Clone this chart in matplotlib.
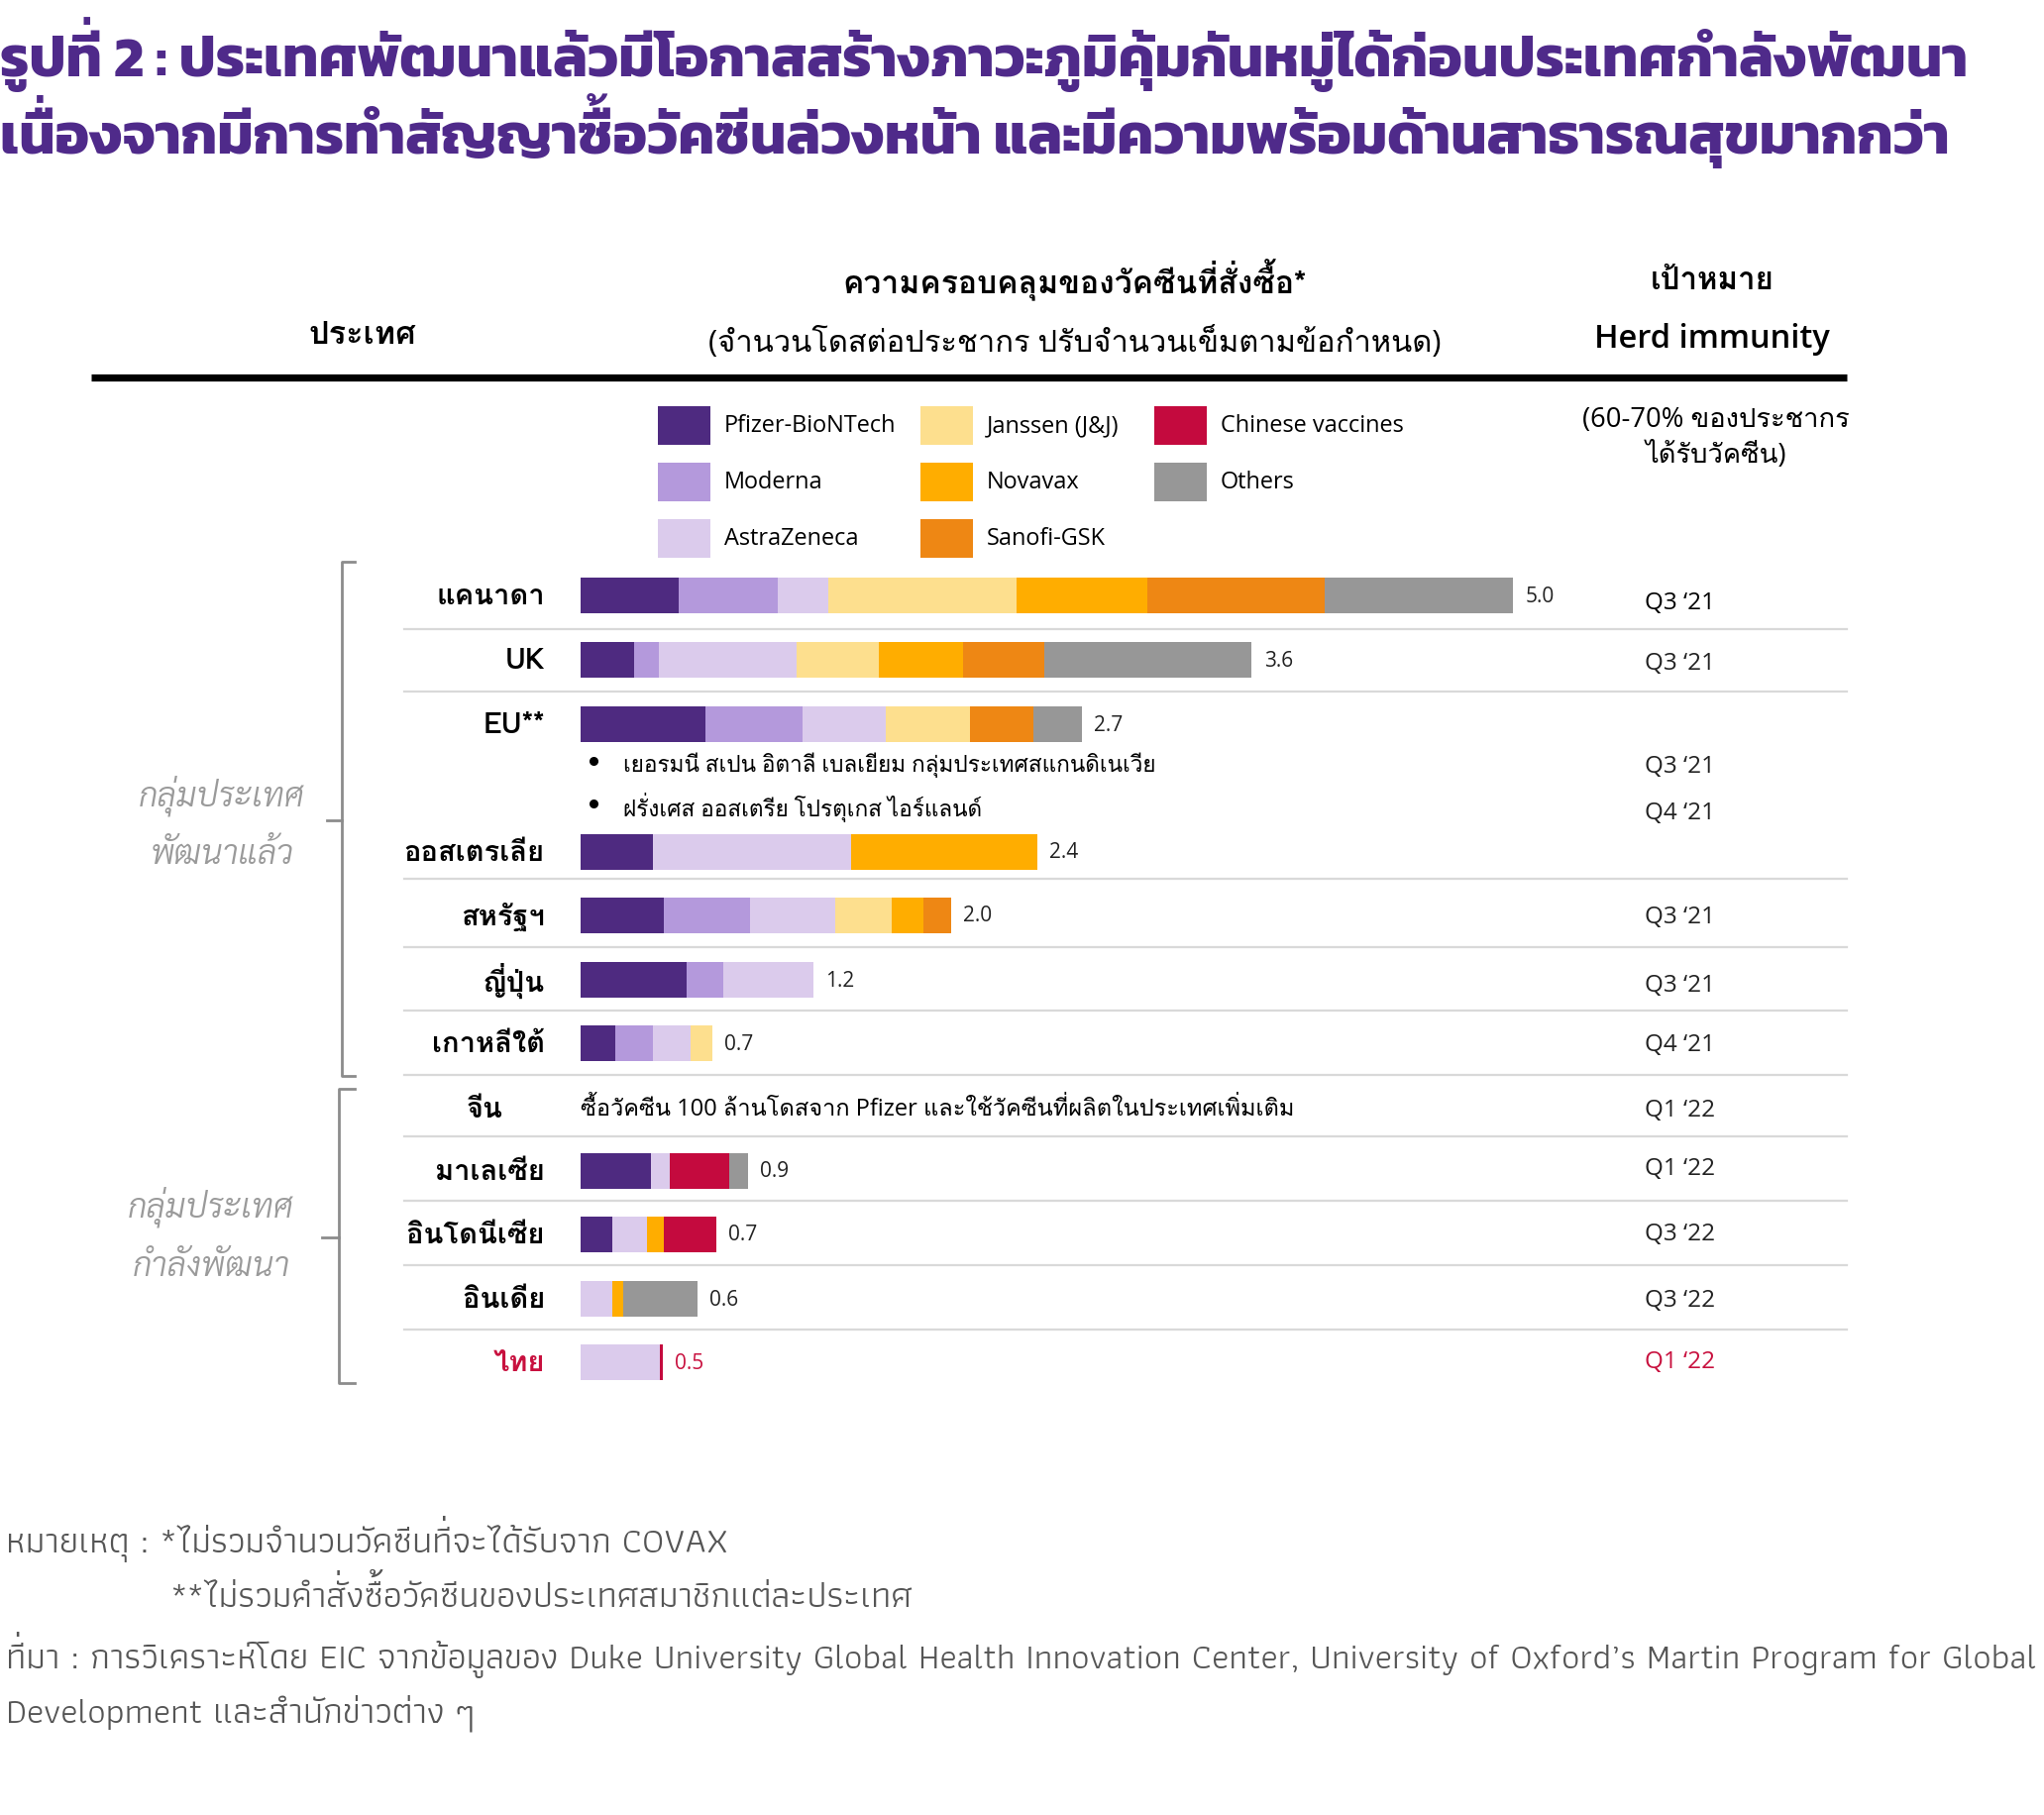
import matplotlib
matplotlib.use("Agg")
import matplotlib.pyplot as plt
import numpy as np

# ---- data (doses per population) ----
countries = ['แคนาดา', 'UK', 'EU**', 'ออสเตรเลีย', 'สหรัฐฯ', 'ญี่ปุ่น', 'เกาหลีใต้',
             'จีน', 'มาเลเซีย', 'อินโดนีเซีย', 'อินเดีย', 'ไทย']
vaccines = ['Pfizer-BioNTech', 'Moderna', 'AstraZeneca', 'Janssen (J&J)', 'Novavax',
            'Sanofi-GSK', 'Chinese vaccines', 'Others']
pfizer   = [0.53, 0.29, 0.67, 0.39, 0.45, 0.57, 0.19, 0, 0.38, 0.17, 0,    0]
moderna  = [0.53, 0.13, 0.52, 0,    0.46, 0.20, 0.20, 0, 0,    0,    0,    0]
astra    = [0.27, 0.74, 0.45, 1.06, 0.46, 0.48, 0.20, 0, 0.10, 0.19, 0.17, 0.43]
janssen  = [1.01, 0.44, 0.45, 0,    0.30, 0,    0.12, 0, 0,    0,    0,    0]
novavax  = [0.70, 0.45, 0,    1.00, 0.17, 0,    0,    0, 0,    0.09, 0.06, 0]
sanofi   = [0.95, 0.44, 0.34, 0,    0.15, 0,    0,    0, 0,    0,    0,    0]
chinese  = [0,    0,    0,    0,    0,    0,    0,    0, 0.32, 0.28, 0,    0.013]
others   = [1.01, 1.11, 0.26, 0,    0,    0,    0,    0, 0.10, 0,    0.40, 0]
totals = ['5.0', '3.6', '2.7', '2.4', '2.0', '1.2', '0.7', '', '0.9', '0.7', '0.6', '0.5']
targets = ["Q3 ‘21", "Q3 ‘21", "Q3 ‘21", "Q4 ‘21", "Q3 ‘21", "Q3 ‘21", "Q4 ‘21",
           "Q1 ‘22", "Q1 ‘22", "Q3 ‘22", "Q3 ‘22", "Q1 ‘22"]
eu_notes = ['เยอรมนี สเปน อิตาลี เบลเยียม กลุ่มประเทศสแกนดิเนเวีย',
            'ฝรั่งเศส ออสเตรีย โปรตุเกส ไอร์แลนด์']
china_note = 'ซื้อวัคซีน 100 ล้านโดสจาก Pfizer และใช้วัคซีนที่ผลิตในประเทศเพิ่มเติม'

colors = ['#4E2A80', '#B499DC', '#DBCBEC', '#FDDF8E', '#FFAD00', '#EE8714', '#C40A3E', '#979797']
series = [pfizer, moderna, astra, janssen, novavax, sanofi, chinese, others]
PURPLE = '#4F2A8A'
RED = '#C8103E'

# fonts (Loma has the legacy Thai PUA forms, used since matplotlib does no shaping)
BODY = ['Open Sans', 'Loma', 'DejaVu Sans']
BOLD = ['Loma', 'DejaVu Sans']
TITLE = ['Kanit', 'Loma', 'DejaVu Sans']
NOTE = ['Athiti', 'Loma', 'DejaVu Sans']
GROUP = ['Sarabun', 'DejaVu Sans']

TONE = range(0x0E48, 0x0E4D)
UPPER_LEFT = {0x0E31: 0xF710, 0x0E34: 0xF701, 0x0E35: 0xF702, 0x0E36: 0xF703,
              0x0E37: 0xF704, 0x0E47: 0xF712, 0x0E4D: 0xF711}
ASC = {0x0E1B, 0x0E1D, 0x0E1F, 0x0E2C}


def shape(s):
    # pick low / left-shifted mark forms for Loma
    out, base, upper = [], None, False
    for i, ch in enumerate(s):
        c = ord(ch)
        nxt = ord(s[i + 1]) if i + 1 < len(s) else 0
        if 0x0E01 <= c <= 0x0E2E:
            base, upper = c, False
        elif c in UPPER_LEFT:
            upper = True
            if base in ASC:
                c = UPPER_LEFT[c]
        elif c in TONE:
            k = c - 0x0E48
            high = upper or nxt == 0x0E33
            if base in ASC:
                c = (0xF713 if high else 0xF705) + k
            elif not high:
                c = 0xF70A + k
        elif c in (0x0E38, 0x0E39, 0x0E3A) and base in (0x0E0E, 0x0E0F):
            c = 0xF718 + c - 0x0E38
        out.append(chr(c))
    return ''.join(out)


def lift(s):
    # tone marks sitting on an upper vowel: borrow Loma's raised form
    out, upper = [], False
    for ch in s:
        c = ord(ch)
        if 0x0E01 <= c <= 0x0E2E:
            upper = False
        elif c in UPPER_LEFT:
            upper = True
        elif c in TONE and upper:
            c = 0xF713 + c - 0x0E48
        out.append(chr(c))
    return ''.join(out)


# ---- layout in pixels ----
W, H = 2063, 1833
row_y = [602, 667, 732, 861, 925, 990, 1054, 1120, 1183, 1247, 1312, 1376]
target_y = [609, 670, 774, 821, 926, 995, 1055, 1121, 1180, 1246, 1313, 1375]
sep_y = [636, 699, 888, 957, 1021, 1086, 1148, 1213, 1278, 1343]
bar_x0, px_per_unit = 585.5, 188.3

fig = plt.figure(figsize=(W / 100, H / 100), dpi=100)
ov = fig.add_axes([0, 0, 1, 1])
ov.set_xlim(0, W)
ov.set_ylim(H, 0)
ov.axis('off')
renderer = fig.canvas.get_renderer()


def fit(t, width):
    bb = t.get_window_extent(renderer)
    t.set_fontsize(t.get_fontsize() * width / bb.width)
    return t


# title
t1 = ov.text(0, 55, lift('รูปที่ 2 : ประเทศพัฒนาแล้วมีโอกาสสร้างภาวะภูมิคุ้มกันหมู่ได้ก่อนประเทศกำลังพัฒนา'),
             family=TITLE, weight=700, color=PURPLE, fontsize=36, va='center')
fit(t1, 1984)
t2 = ov.text(0, 132, lift('เนื่องจากมีการทำสัญญาซื้อวัคซีนล่วงหน้า และมีความพร้อมด้านสาธารณสุขมากกว่า'),
             family=TITLE, weight=700, color=PURPLE, fontsize=36, va='center')
fit(t2, 1967)

# column headers
fit(ov.text(1085, 283, shape('ความครอบคลุมของวัคซีนที่สั่งซื้อ*'), family=BOLD, weight='bold',
            fontsize=20, ha='center', va='center'), 468)
fit(ov.text(1085, 345, shape('(จำนวนโดสต่อประชากร ปรับจำนวนเข็มตามข้อกำหนด)'), family=BODY,
            fontsize=20, ha='center', va='center'), 739)
fit(ov.text(366, 338, shape('ประเทศ'), family=BOLD, weight='bold', fontsize=20,
            ha='center', va='center'), 109)
fit(ov.text(1728, 283, shape('เป้าหมาย'), family=BOLD, weight='bold', fontsize=20,
            ha='center', va='center'), 125)
fit(ov.text(1728, 342, 'Herd immunity', family=BODY, weight='semibold', fontsize=20,
            ha='center', va='center'), 238)
ht = fit(ov.text(1732, 424, shape('(60-70% ของประชากร'), family=BODY, fontsize=18,
                 ha='center', va='center'), 270)
ov.text(1732, 460, shape('ได้รับวัคซีน)'), family=BODY, fontsize=ht.get_fontsize(),
        ha='center', va='center')
ov.plot([92, 1864], [382, 382], color='black', lw=5.2, solid_capstyle='butt')

# legend swatches
leg_x = [664, 929, 1165]
leg_y = [430, 487, 544]
lt = ov.text(731, 430, vaccines[0], family=BODY, fontsize=16, va='center')
fit(lt, 174)
for i, (name, c) in enumerate(zip(vaccines, colors)):
    col, r = divmod(i, 3)
    ov.add_patch(plt.Rectangle((leg_x[col], leg_y[r] - 19.5), 53, 39, color=c, lw=0))
    if i:
        ov.text(leg_x[col] + 67, leg_y[r], name, family=BODY,
                fontsize=lt.get_fontsize(), va='center')

# separators
for y in sep_y:
    ov.plot([408, 1864], [y, y], color='#d9d9d9', lw=1.6)

# bars
ax = fig.add_axes([bar_x0 / W, 0, 6 * px_per_unit / W, 1])
ax.set_xlim(0, 6)
ax.set_ylim(H, 0)
ax.axis('off')
ax.patch.set_alpha(0)
left = np.zeros(len(countries))
for name, vals, c in zip(vaccines, series, colors):
    vals = np.array(vals, dtype=float)
    ax.barh(row_y, vals, left=left, height=36, color=c, label=name, lw=0)
    left += vals
for y, tot, lab in zip(row_y, left, totals):
    if lab:
        ax.text(tot + 0.065, y, lab, family=BODY, fontsize=15, va='center',
                color=RED if lab == '0.5' else '#222222')

# country labels
cl = ov.text(550, row_y[3], shape(countries[3]), family=BOLD, weight='bold', fontsize=20,
             ha='right', va='center')
fit(cl, 142)
for i, (name, y) in enumerate(zip(countries, row_y)):
    if i == 3:
        continue
    x = 508 if name == 'จีน' else 550
    ov.text(x, y, shape(name), family=BOLD, weight='bold', fontsize=cl.get_fontsize(),
            ha='right', va='center', color=RED if name == 'ไทย' else 'black')

# EU notes and China note
en = ov.text(629, 772, shape(eu_notes[0]), family=BODY, fontsize=15, va='center')
fit(en, 537)
ov.text(629, 815, shape(eu_notes[1]), family=BODY, fontsize=en.get_fontsize(), va='center')
for y in (772, 815):
    ov.plot(599, y - 3, 'o', color='black', ms=5.5)
fit(ov.text(586, 1120, shape(china_note), family=BODY, fontsize=16, va='center'), 721)

# targets
tt = ov.text(1660, target_y[0], targets[0], family=BODY, fontsize=16, va='center')
fit(tt, 71)
for i, (lab, y) in enumerate(zip(targets, target_y)):
    if i:
        ov.text(1660, y, lab, family=BODY, fontsize=tt.get_fontsize(), va='center',
                color=RED if i == len(targets) - 1 else '#222222')

# brackets
br = dict(color='#8c8c8c', lw=2)
ov.plot([358, 345, 345, 358], [568, 568, 1087, 1087], **br)
ov.plot([330, 345], [829, 829], **br)
ov.plot([358, 342, 342, 358], [1100, 1100, 1397, 1397], **br)
ov.plot([325, 342], [1250, 1250], **br)
g = ov.text(224, 803, 'กลุ่มประเทศ', family=GROUP, style='italic', weight=300,
            color='#9a9a9a', fontsize=22, ha='center', va='center')
fit(g, 168)
gs = g.get_fontsize()
for x, y, s in [(224, 863, 'พัฒนาแล้ว'), (213, 1218, 'กลุ่มประเทศ'), (213, 1279, 'กำลังพัฒนา')]:
    ov.text(x, y, s, family=GROUP, style='italic', weight=300, color='#9a9a9a',
            fontsize=gs, ha='center', va='center')

# notes
nc = '#555555'
n3 = ov.text(6, 1671, lift('ที่มา : การวิเคราะห์โดย EIC จากข้อมูลของ Duke University Global Health '
                           'Innovation Center, University of Oxford’s Martin Program for Global'),
             family=NOTE, color=nc, fontsize=24, va='center')
fit(n3, 2052)
ns = n3.get_fontsize()
ov.text(6, 1554, lift('หมายเหตุ : *ไม่รวมจำนวนวัคซีนที่จะได้รับจาก COVAX'), family=NOTE,
        color=nc, fontsize=ns, va='center')
ov.text(171, 1610, lift('**ไม่รวมคำสั่งซื้อวัคซีนของประเทศสมาชิกแต่ละประเทศ'), family=NOTE,
        color=nc, fontsize=ns, va='center')
ov.text(6, 1729, 'Development และสำนักข่าวต่าง ๆ', family=NOTE, color=nc,
        fontsize=ns, va='center')

fig.savefig('out.png', dpi=100)
